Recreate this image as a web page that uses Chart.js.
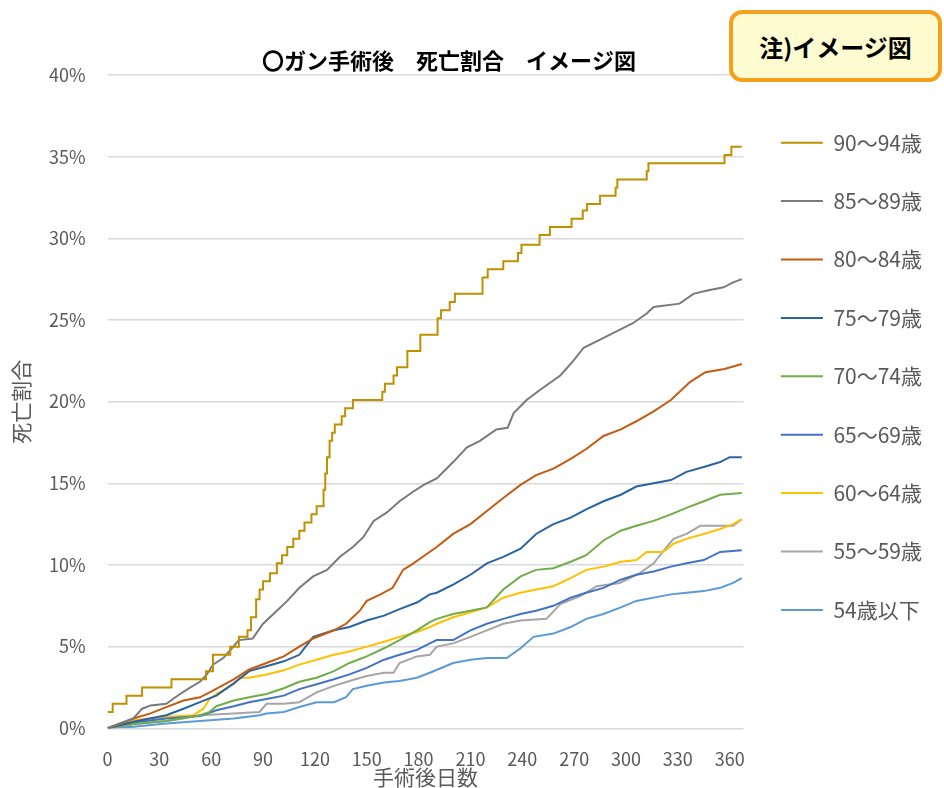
<!DOCTYPE html>
<html lang="ja">
<head>
<meta charset="utf-8">
<title>ガン手術後 死亡割合 イメージ図</title>
<script src="https://cdn.jsdelivr.net/npm/chart.js@4.4.1/dist/chart.umd.min.js"></script>
<style>
  html, body { margin: 0; padding: 0; background: #fff; }
  #wrap { position: relative; width: 944px; height: 788px; }
  #note {
    position: absolute; left: 729px; top: 10px; width: 205px; height: 64px;
    border: 4px solid #f5a01c; border-radius: 13px; background: #fffbd0;
    display: flex; align-items: center; justify-content: center;
    font: bold 24px "Noto Sans CJK JP", sans-serif; color: #000;
  }
</style>
</head>
<body>
<div id="wrap">
  <canvas id="chart"></canvas>
  <div id="note">注)イメージ図</div>
</div>
<script>
// 手術後日数 vs 死亡割合(%), [day, percent]
const labels = ['90～94歳', '85～89歳', '80～84歳', '75～79歳', '70～74歳', '65～69歳', '60～64歳', '55～59歳', '54歳以下'];
const colors = ['#bf9000', '#7a7a7a', '#c55a11', '#2a64a0', '#70ad47', '#4472c4', '#ffc000', '#a5a5a5', '#5b9bd5'];

const s90_94 = [[0,1.0],[3,1.5],[11,2.0],[20,2.5],[37,3.0],[57,3.5],[61,4.5],[71,5.0],[76,5.6],[81,6.0],[83,6.8],[86,7.9],
  [88,8.5],[90,9.0],[94,9.5],[98,10.1],[101,10.6],[104,11.1],[107.5,11.6],[111,12.1],[114,12.6],[118,13.1],[121,13.6],
  [125,14.6],[126,15.6],[127,16.6],[128.5,17.6],[130,18.1],[131.5,18.6],[135.5,19.1],[137.5,19.6],[142,20.1],[159,20.6],
  [160.5,21.1],[165.5,21.6],[167.5,22.1],[173.5,23.1],[181,24.1],[191,25.1],[193,25.6],[198,26.1],[201,26.6],[217,27.6],
  [220,28.1],[229,28.6],[237.5,29.1],[239.5,29.6],[250,30.2],[256,30.7],[268.5,31.2],[275,31.7],[277.5,32.1],[285,32.6],
  [294,33.1],[295,33.6],[312,34.1],[313,34.6],[357,35.1],[361,35.6],[367,35.6]];
const s85_89 = [[0,0],[15,0.6],[20,1.2],[25,1.4],[34,1.5],[42,2.1],[48,2.5],[53.5,2.85],[57.5,3.3],[61,3.9],[67,4.3],[72,4.9],
  [76,5.4],[84,5.5],[90,6.4],[98,7.2],[104,7.8],[111,8.6],[119,9.3],[127,9.7],[134.5,10.5],[142,11.1],[148,11.7],[154,12.7],
  [161.5,13.2],[169,13.9],[177,14.5],[183,14.9],[190.5,15.3],[200,16.3],[208,17.2],[215.5,17.6],[225,18.3],[231.5,18.4],
  [235,19.3],[242.5,20.1],[250,20.7],[262,21.6],[269.5,22.5],[275.5,23.3],[285,23.8],[294.5,24.3],[304,24.8],[312,25.4],
  [316,25.8],[331,26.0],[339,26.6],[347,26.8],[356.5,27.0],[362,27.3],[367,27.5]];
const s80_84 = [[0,0],[15,0.6],[24.5,0.9],[34,1.3],[44,1.7],[53.5,1.9],[61,2.3],[73,3.0],[82,3.6],[92,4.0],[102,4.4],[111,5.0],
  [119,5.5],[131,6.0],[138,6.4],[146,7.2],[150,7.8],[158,8.2],[165,8.6],[171,9.7],[177,10.1],[181,10.4],[190.5,11.1],[200,11.9],
  [210,12.5],[219.5,13.3],[229,14.1],[239,14.9],[248,15.5],[258,15.9],[268,16.5],[277,17.1],[287,17.9],[297,18.3],[306,18.8],
  [316,19.4],[326,20.1],[337,21.2],[346,21.8],[357,22.0],[367,22.3]];
const s75_79 = [[0,0],[15,0.4],[24.5,0.6],[34,0.8],[44,1.2],[53.5,1.6],[63,2.0],[73,2.75],[82,3.5],[92,3.8],[102,4.1],[111,4.5],
  [119,5.6],[131,6.0],[140,6.2],[150,6.6],[160,6.9],[169,7.3],[179,7.7],[186.5,8.2],[190.5,8.3],[200,8.8],[210,9.4],[219.5,10.1],
  [229,10.5],[239,11.0],[248,11.9],[258,12.5],[268,12.9],[277,13.4],[287,13.9],[297,14.3],[306,14.8],[316,15.0],[326,15.2],
  [335,15.7],[345,16.0],[354.5,16.3],[360,16.6],[367,16.6]];
const s70_74 = [[0,0],[15,0.26],[34,0.45],[53.5,0.8],[59,1.0],[63,1.35],[73,1.7],[82,1.9],[92,2.1],[102,2.45],[111,2.85],[121,3.1],
  [131,3.5],[140,4.0],[150,4.4],[160,4.9],[169,5.4],[179,6.0],[186.5,6.5],[190.5,6.7],[200,7.0],[210,7.2],[219.5,7.4],[229,8.5],
  [239,9.3],[248,9.7],[258,9.8],[268,10.2],[277,10.6],[287,11.5],[297,12.1],[306,12.4],[316,12.7],[326,13.1],[335,13.5],
  [345,13.9],[354.5,14.3],[367,14.4]];
const s65_69 = [[0,0],[15,0.35],[34,0.6],[53.5,0.75],[63,1.1],[73,1.35],[82,1.6],[92,1.8],[102,2.0],[111,2.4],[121,2.7],[131,3.0],
  [140,3.3],[150,3.7],[160,4.2],[169,4.5],[179,4.8],[186.5,5.2],[190.5,5.4],[200,5.4],[210,6.0],[219.5,6.4],[229,6.7],[239,7.0],
  [248,7.2],[258,7.5],[268,8.0],[277,8.3],[287,8.6],[297,9.1],[306,9.4],[316,9.6],[326,9.9],[335,10.1],[345,10.3],[354.5,10.8],
  [367,10.9]];
const s60_64 = [[0,0],[15,0.5],[34,0.7],[49.5,0.8],[55.5,1.2],[59,1.8],[63,2.1],[73,2.7],[76.5,3.1],[82,3.1],[92,3.3],[102,3.55],
  [111,3.9],[121,4.2],[131,4.5],[140,4.7],[150,5.0],[160,5.3],[169,5.6],[179,5.9],[186.5,6.2],[190.5,6.4],[200,6.8],[210,7.1],
  [219.5,7.4],[229,8.0],[239,8.3],[248,8.5],[258,8.7],[268,9.2],[277,9.7],[287,9.9],[297,10.2],[306,10.3],[312,10.8],[321.5,10.8],
  [327.5,11.3],[335,11.6],[345,11.9],[354.5,12.2],[362,12.5],[367,12.8]];
const s55_59 = [[0,0],[15,0.25],[34,0.45],[44,0.6],[53.5,0.8],[73,0.9],[88,1.0],[92,1.5],[102,1.5],[111,1.6],[121,2.2],[131,2.6],
  [140,2.9],[150,3.2],[160,3.4],[165.5,3.4],[169,4.0],[179,4.4],[186.5,4.5],[190.5,5.0],[200,5.2],[210,5.6],[219.5,6.0],
  [229,6.4],[239,6.6],[254,6.7],[262,7.6],[273.5,8.1],[283,8.7],[296.5,8.9],[308,9.5],[316,10.1],[323.5,11.1],[327.5,11.6],
  [335,11.9],[343,12.4],[362,12.4],[367,12.8]];
const s54under = [[0,0],[15,0.1],[34,0.3],[53.5,0.45],[73,0.6],[88,0.8],[92,0.9],[102,1.0],[111,1.3],[121,1.6],[131,1.6],
  [138,1.9],[142,2.4],[150,2.6],[160,2.8],[169,2.9],[179,3.1],[186.5,3.4],[200,4.0],[210,4.2],[219.5,4.3],[231,4.3],[239,4.9],
  [246.5,5.6],[258,5.8],[268,6.2],[277,6.7],[287,7.0],[297,7.4],[306,7.8],[316,8.0],[326,8.2],[335,8.3],[345,8.4],[354.5,8.6],
  [362,8.9],[367,9.2]];

const seriesList = [s90_94, s85_89, s80_84, s75_79, s70_74, s65_69, s60_64, s55_59, s54under];
const xTicksStep = 30;
const yTicksStep = 5;

Chart.defaults.font.family = '"Noto Sans CJK JP", sans-serif';

const datasets = seriesList.map((s, i) => ({
  label: labels[i],
  data: s.map(p => ({ x: p[0], y: p[1] })),
  borderColor: colors[i],
  backgroundColor: colors[i],
  borderWidth: 2,
  pointRadius: 0,
  tension: 0,
  fill: false,
  stepped: i === 0 ? 'before' : false
}));

// legend gets a fixed width so the plot ends where the original does,
// title is centred over the left part like in the excel picture
const layoutTweaks = {
  id: 'layoutTweaks',
  afterInit(chart) {
    const lg = chart.legend;
    const fit = lg.fit;
    lg.fit = function () { fit.call(this); this.width = 200.5; };
  },
  afterLayout(chart) {
    chart.titleBlock.left = 0;
    chart.titleBlock.right = 898;
  }
};

new Chart(document.getElementById('chart'), {
  type: 'line',
  data: { datasets: datasets },
  plugins: [layoutTweaks],
  options: {
    responsive: true,
    maintainAspectRatio: false,
    animation: false,
    layout: { padding: { top: 47, right: 0, bottom: 0, left: 0 } },
    plugins: {
      title: {
        display: true,
        text: '〇ガン手術後　死亡割合　イメージ図',
        color: '#000',
        font: { size: 22, weight: 'bold', lineHeight: 1.2 },
        padding: { top: 0, bottom: 1.6 }
      },
      legend: {
        position: 'right',
        fullSize: false,
        align: 'start',
        title: { display: true, text: '', font: { size: 10, lineHeight: 1.2 }, padding: { top: 7.8, bottom: 0 } },
        labels: {
          color: '#595959',
          font: { size: 21 },
          boxWidth: 42,
          boxHeight: 0,
          padding: 37.4
        }
      },
      tooltip: { enabled: false }
    },
    scales: {
      x: {
        type: 'linear',
        min: 0,
        max: 368,
        afterFit: (scale) => { scale.height = 59.7; },
        grid: { display: false, drawTicks: false },
        border: { display: false },
        ticks: { stepSize: xTicksStep, includeBounds: false, padding: 20, color: '#595959', font: { size: 18 }, maxRotation: 0 },
        title: { display: true, text: '手術後日数', color: '#595959', font: { size: 21, lineHeight: 1 }, padding: { top: 0, bottom: 0 } }
      },
      y: {
        min: 0,
        max: 40,
        afterFit: (scale) => { scale.width = 107.5; },
        grid: { color: '#d9d9d9', lineWidth: 1.5, drawTicks: false },
        border: { display: false },
        ticks: { stepSize: yTicksStep, padding: 22, color: '#595959', font: { size: 18 }, callback: (v) => v + '%' },
        title: { display: true, text: '死亡割合', color: '#595959', font: { size: 21 }, padding: { top: 8, bottom: 0 } }
      }
    }
  }
});
</script>
</body>
</html>
